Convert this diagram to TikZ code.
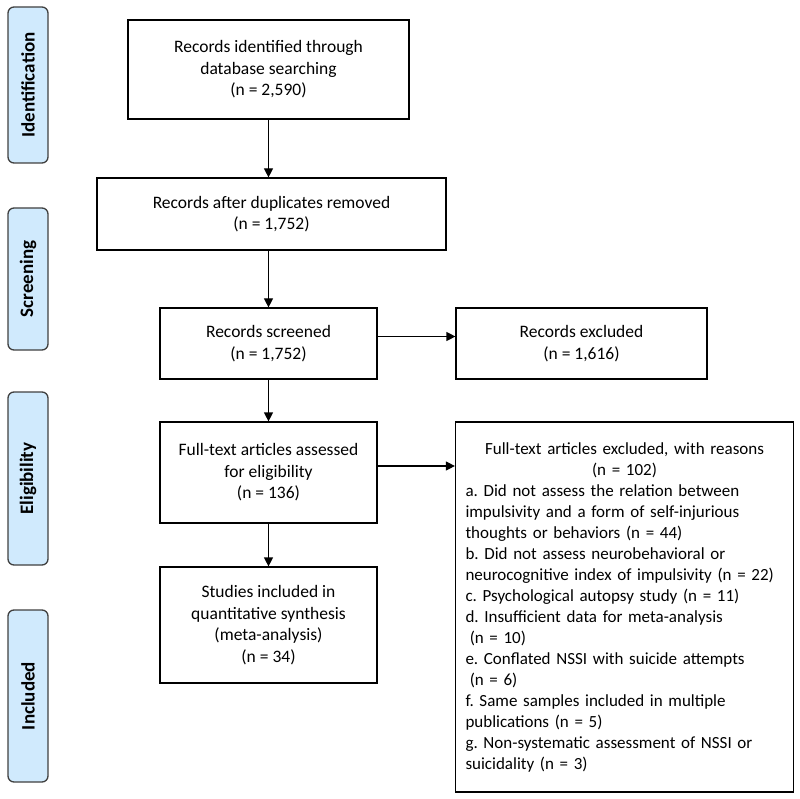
\documentclass[tikz,border=0pt]{standalone}
\usepackage{fontspec}
\setmainfont{Carlito}
\usetikzlibrary{arrows.meta,positioning}
\definecolor{phaseblue}{RGB}{208,234,253}
\frenchspacing

\begin{document}
\begin{tikzpicture} [x=1pt, y=-1pt, >={Triangle[length=9pt,width=9pt]}, block/.style={rectangle, draw, line width=1.2pt, align=center, inner sep=2pt, font=\fontsize{17.5}{21.5}\selectfont}, phase/.style={rectangle, rounded corners=6pt, draw=black!75, line width=1.3pt, fill=phaseblue, rotate=90, minimum height=40pt, inner sep=0pt, font=\fontsize{19}{21}\selectfont\bfseries}]
  \useasboundingbox (0,0) rectangle (800,799);
  %% Phases
  \node [phase, minimum width=156pt] (ident) at (28,85) {Identification};
  \node [phase, minimum width=142pt] (screen) at (28,279) {Screening};
  \node [phase, minimum width=173pt] (elig) at (28,478.5) {Eligibility};
  \node [phase, minimum width=172pt] (incl) at (28,696) {Included};
  %% Flow
  \node [block, minimum width=281pt, minimum height=99pt] (found) at (268.5,69.5) {Records identified through\\ database searching\\ (n = 2,590)};
  \node [block, minimum width=349pt, minimum height=72pt] (dedup) at (271.5,214) {Records after duplicates removed\\ (n = 1,752)};
  \node [block, minimum width=217pt, minimum height=71pt] (screened) at (268.5,343.5) {Records screened\\ (n = 1,752)};
  \node [block, minimum width=251pt, minimum height=71pt, right of=screened, node distance=313pt] (excluded) {Records excluded\\ (n = 1,616)};
  \node [block, minimum width=217pt, minimum height=101pt] (fulltext) at (268.5,472.5) {Full-text articles assessed\\ for eligibility\\ (n = 136)};
  \node [block, minimum width=337pt, minimum height=370pt, text width=318pt, align=left, inner sep=10pt, font=\fontsize{17}{21}\selectfont] (reasons) at (624.5,607) {{\centering Full-text articles excluded, with reasons\\ (n = 102)\par}
    a. Did not assess the relation between\\
    impulsivity and a form of self-injurious\\
    thoughts or behaviors (n = 44)\\
    b. Did not assess neurobehavioral or\\
    neurocognitive index of impulsivity (n = 22)\\
    c. Psychological autopsy study (n = 11)\\
    d. Insufficient data for meta-analysis\\
    \hspace*{0.25em}(n = 10)\\
    e. Conflated NSSI with suicide attempts\\
    \hspace*{0.25em}(n = 6)\\
    f. Same samples included in multiple\\
    publications (n = 5)\\
    g. Non-systematic assessment of NSSI or\\
    suicidality (n = 3)};
  \node [block, minimum width=217pt, minimum height=116pt] (studies) at (268.5,625) {Studies included in\\ quantitative synthesis\\ (meta-analysis)\\ (n = 34)};
  % Draw edges
  \draw [->, line width=1.2pt] (found.south) -- (found.south |- dedup.north);
  \draw [->, line width=1.2pt] (screened.north |- dedup.south) -- (screened.north);
  \draw [->, line width=1.2pt] ([yshift=7pt]screened.east) -- ([yshift=7pt]excluded.west);
  \draw [->, line width=1.2pt] (screened) -- (fulltext);
  \draw [->, line width=1.2pt] ([yshift=6.5pt]fulltext.east) -- ([yshift=6.5pt]fulltext.east -| reasons.west);
  \draw [->, line width=1.2pt] (fulltext) -- (studies);
\end{tikzpicture}
\end{document}
